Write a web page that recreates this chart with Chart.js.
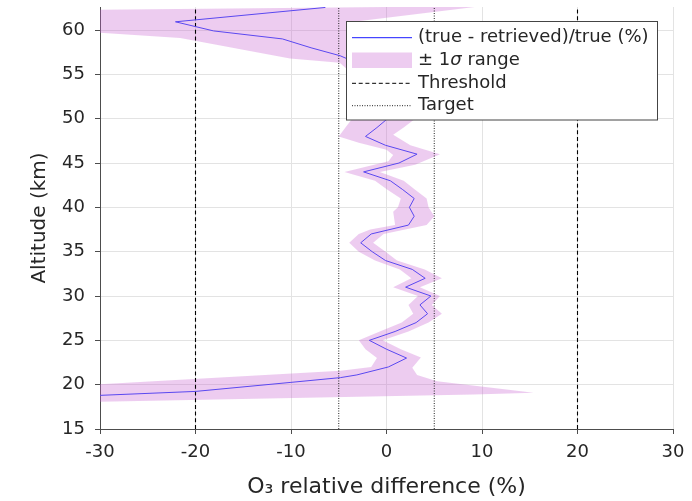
<!doctype html>
<html lang="en">
<head>
<meta charset="utf-8">
<title>O3 relative difference</title>
<script src="https://cdn.jsdelivr.net/npm/chart.js"></script>
<style>
    html, body { margin:0; padding:0; background:#fff; }
    #wrap { width:692px; height:501px; position:relative; }
</style>
</head>
<body>
<div id="wrap"><canvas id="chart-0"></canvas></div>
<script>
// retrieved profile: altitude (km) / (true - retrieved)/true (%)
const lineAlt = [18.75, 19.24, 20.25, 20.8, 21.1, 22, 23, 24, 25, 26, 27, 28, 29, 30, 31, 32, 33, 34, 35, 36, 37, 38, 39, 40, 41, 42, 43, 44, 45, 46, 47, 48, 49, 50, 52, 54, 56, 57.1, 58, 59, 59.9, 60.93, 62.55];
const lineVal = [-31, -20, -10.1, -4.8, -3.1, 0.2, 2.1, 0.0, -1.8, 0.9, 3.1, 4.3, 3.5, 4.65, 2.0, 4.05, 2.7, -0.1, -1.5, -2.7, -1.6, 2.3, 2.9, 2.4, 2.9, 1.7, 0.4, -2.4, 1.3, 3.2, -0.1, -2.2, -1.0, 0.1, 0.5, 0.0, -2.5, -4.85, -7.9, -10.9, -18.1, -22.1, -6.4];

// +-1 sigma band, lower edge and upper edge
const lowAlt = [17.75, 19.7, 20.06, 21.56, 22, 23, 24, 25, 26, 27, 28, 29, 30, 31, 32, 33, 34, 35, 36, 37, 37.5, 38, 39.5, 40, 41, 42, 43, 44, 45.2, 45.9, 46.5, 47.3, 48, 49, 50, 51, 53, 55, 56.3, 56.8, 59.1, 59.7, 62.2];
const lowVal = [-45, -36, -30, -4.8, -1.6, -1.0, -2.2, -2.9, -0.7, 1.6, 2.8, 2.3, 3.3, 0.7, 2.6, 1.4, -1.2, -2.9, -3.9, -2.9, -1.7, 0.9, 0.7, 1.2, 1.5, 0.1, -1.2, -4.4, 0.2, 0.7, 0.0, -2.9, -5.0, -4.3, -3.6, -2.6, -2.0, -3.5, -4.9, -10.1, -21.6, -30, -40];
const upAlt = [18.9, 19.1, 20.4, 21.1, 21.9, 23.07, 24, 25, 26, 27, 28, 29, 30, 31, 32, 33, 34, 35, 36, 37, 38, 39, 40, 41, 42, 43, 44, 44.8, 46, 47, 48.2, 49, 50, 52, 54, 56, 58, 60, 61, 62.7];
const upVal = [9.1, 15.4, 5.3, 3.2, 2.7, 3.6, 1.5, -0.4, 2.3, 4.4, 5.8, 4.75, 5.6, 3.5, 5.8, 4.0, 1.1, -0.1, -1.4, -0.3, 4.2, 5.0, 4.4, 4.2, 3.0, 1.8, -0.7, 3.0, 5.6, 2.5, 0.7, 1.8, 3.0, 2.5, 2.5, 1.5, 0.5, 0, -3, 10];

const thresholdX = [-20, 20];
const targetX = [-5, 5];

const xMin = -30, xMax = 30, xStep = 10;
const yMin = 15, yMax = 62.6, yStep = 5;

const legendLabels = ['(true - retrieved)/true (%)', '\u00b1 1', '\u03c3', ' range', 'Threshold', 'Target'];

const LINE_COLOR = '#5a48f0';
const BAND_COLOR = 'rgba(200,100,210,0.33)';
const TEXT_COLOR = '#262626';
const AXIS_COLOR = '#4d4d4d';
const FONT = 'DejaVu Sans';

Chart.defaults.font.family = FONT;
Chart.defaults.font.size = 18;
Chart.defaults.color = TEXT_COLOR;

// polygon: lower edge going up, upper edge coming down
const bandPoly = [];
lowAlt.forEach((a, i) => bandPoly.push({x: lowVal[i], y: a}));
for (let i = upAlt.length - 1; i >= 0; i--) bandPoly.push({x: upVal[i], y: upAlt[i]});

const profile = lineAlt.map((a, i) => ({x: lineVal[i], y: a}));

function vline(v) { return [{x: v, y: yMin}, {x: v, y: yMax}]; }

const datasets = [
    { label: 'band', data: bandPoly, showLine: true, fill: 'shape', backgroundColor: BAND_COLOR,
      borderWidth: 0, borderColor: 'rgba(0,0,0,0)', pointRadius: 0, order: 5 },
    { label: 'profile', data: profile, showLine: true, borderColor: LINE_COLOR, borderWidth: 1,
      pointRadius: 0, fill: false, order: 1 },
];
thresholdX.forEach(v => datasets.push({ label: 'Threshold', data: vline(v), showLine: true,
    borderColor: '#000', borderWidth: 1.1, borderDash: [4, 2.7], pointRadius: 0, fill: false, order: 2 }));
targetX.forEach(v => datasets.push({ label: 'Target', data: vline(v), showLine: true,
    borderColor: '#222', borderWidth: 1, borderDash: [1, 1.5], pointRadius: 0, fill: false, order: 2 }));

// legend box inside the plot
const boxLegend = {
    id: 'boxLegend',
    afterDraw(chart) {
        const ctx = chart.ctx;
        const bx = 346.5, by = 21.5, bw = 311, bh = 98.5;
        const x0 = 352, x1 = 412, tx = 418;
        const rows = [37.7, 60, 83.3, 105.7];
        ctx.save();
        ctx.fillStyle = '#fff';
        ctx.fillRect(bx, by, bw, bh);
        ctx.strokeStyle = '#444';
        ctx.lineWidth = 1;
        ctx.strokeRect(bx, by, bw, bh);

        ctx.lineWidth = 1;
        ctx.strokeStyle = '#1a1aff';
        ctx.beginPath(); ctx.moveTo(x0, rows[0]); ctx.lineTo(x1, rows[0]); ctx.stroke();

        ctx.fillStyle = BAND_COLOR;
        ctx.fillRect(x0, rows[1] - 7.5, x1 - x0, 15.5);

        ctx.strokeStyle = '#000';
        ctx.setLineDash([4, 2.7]);
        ctx.beginPath(); ctx.moveTo(x0, rows[2]); ctx.lineTo(x1, rows[2]); ctx.stroke();
        ctx.strokeStyle = '#222';
        ctx.setLineDash([1, 1.5]);
        ctx.beginPath(); ctx.moveTo(x0, rows[3]); ctx.lineTo(x1, rows[3]); ctx.stroke();
        ctx.setLineDash([]);

        ctx.fillStyle = TEXT_COLOR;
        ctx.textBaseline = 'middle';
        ctx.textAlign = 'left';
        ctx.font = '18px "' + FONT + '"';
        ctx.fillText(legendLabels[0], tx, rows[0]);
        let x = tx;
        ctx.fillText(legendLabels[1], x, rows[1]);
        x += ctx.measureText(legendLabels[1]).width;
        ctx.font = 'italic 18px "' + FONT + '"';
        ctx.fillText(legendLabels[2], x, rows[1]);
        x += ctx.measureText(legendLabels[2]).width;
        ctx.font = '18px "' + FONT + '"';
        ctx.fillText(legendLabels[3], x, rows[1]);
        ctx.fillText(legendLabels[4], tx, rows[2]);
        ctx.fillText(legendLabels[5], tx, rows[3]);
        ctx.restore();
    }
};

window.myChart = new Chart(document.getElementById('chart-0'), {
    type: 'scatter',
    data: { datasets: datasets },
    plugins: [boxLegend],
    options: {
        responsive: true,
        maintainAspectRatio: false,
        animation: false,
        layout: { padding: { top: 7, right: 19, left: 0, bottom: 0 } },
        plugins: { legend: { display: false }, tooltip: { enabled: false } },
        scales: {
            x: {
                type: 'linear', min: xMin, max: xMax,
                afterFit(scale) { scale.height = 72; scale.paddingLeft = 0; scale.paddingRight = 0; },
                ticks: { stepSize: xStep, padding: 8, color: TEXT_COLOR, font: { size: 18 } },
                grid: { color: '#e3e3e3', tickColor: AXIS_COLOR, tickLength: 5 },
                border: { color: AXIS_COLOR, width: 1 },
                title: { display: true, text: 'O\u2083 relative difference (%)', color: TEXT_COLOR,
                         font: { size: 22 }, padding: { top: 0, bottom: 1 } }
            },
            y: {
                type: 'linear', min: yMin, max: yMax,
                afterFit(scale) { scale.width = 100; scale.paddingTop = 0; scale.paddingBottom = 0; },
                ticks: { stepSize: yStep, includeBounds: false, padding: 10, color: TEXT_COLOR, font: { size: 18 } },
                grid: { color: '#e3e3e3', tickColor: AXIS_COLOR, tickLength: 5 },
                border: { color: AXIS_COLOR, width: 1 },
                title: { display: true, text: 'Altitude (km)', color: TEXT_COLOR,
                         font: { size: 20 }, padding: { top: 28, bottom: 0 } }
            }
        }
    }
});
</script>
</body>
</html>
